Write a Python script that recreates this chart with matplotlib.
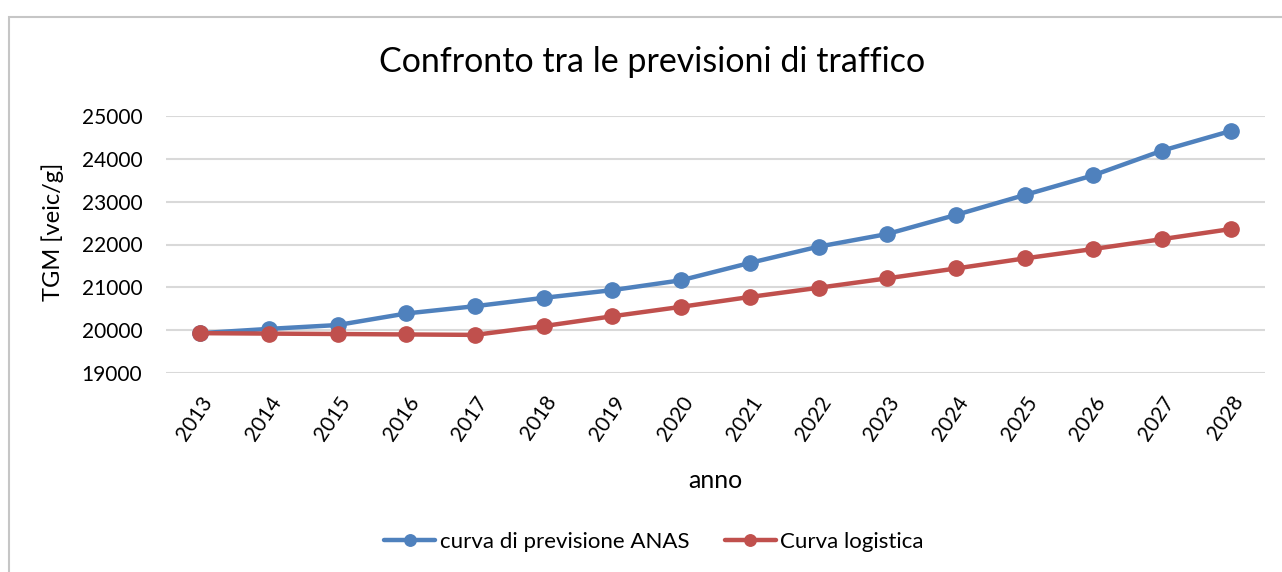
import matplotlib
matplotlib.use("Agg")
import matplotlib.pyplot as plt
from matplotlib.patches import Rectangle

years = ["2013", "2014", "2015", "2016", "2017", "2018", "2019", "2020",
         "2021", "2022", "2023", "2024", "2025", "2026", "2027", "2028"]
anas = [19930, 20030, 20120, 20390, 20560, 20755, 20935, 21165,
        21570, 21950, 22245, 22690, 23155, 23615, 24190, 24650]
logistica = [19930, 19920, 19910, 19900, 19890, 20095, 20325, 20545,
             20775, 20990, 21210, 21440, 21675, 21895, 22125, 22360]
yticks = [19000, 20000, 21000, 22000, 23000, 24000, 25000]

plt.rcParams['font.family'] = ['Lato', 'DejaVu Sans']

W, H = 1282, 572
fig = plt.figure(figsize=(W / 100, H / 100), dpi=100)
fig.patch.set_facecolor('white')

# outer chart frame
fig.patches.append(Rectangle((9 / W, -0.1), 1.2, 1 - 17 / H + 0.1,
                             transform=fig.transFigure, fill=False,
                             edgecolor='#c6c6c6', linewidth=1.5))

ax = fig.add_axes([166 / W, 1 - 373 / H, (1265 - 166) / W, (373 - 116) / H])
x = list(range(len(years)))
ax.plot(x, anas, color='#4f81bd', lw=3.2, marker='o', ms=11,
        label='curva di previsione ANAS', solid_capstyle='round', zorder=3)
ax.plot(x, logistica, color='#c0504d', lw=3.2, marker='o', ms=11,
        label='Curva logistica', solid_capstyle='round', zorder=3)

ax.set_xlim(-0.5, len(years) - 0.5)
ax.set_ylim(19000, 25000)
ax.set_yticks(yticks)
ax.set_yticklabels([str(v) for v in yticks], fontsize=15)
ax.set_xticks(x)
ax.set_xticklabels(years, fontsize=15, rotation=56, ha='right', va='top',
                   rotation_mode='anchor')
ax.tick_params(axis='both', length=0)
ax.tick_params(axis='y', pad=17)
ax.tick_params(axis='x', pad=14)
ax.grid(axis='y', color='#d9d9d9', lw=1.5)
ax.set_axisbelow(True)
for s in ax.spines.values():
    s.set_visible(False)

fig.text(652 / W, 1 - 62 / H, 'Confronto tra le previsioni di traffico',
         ha='center', va='center', fontsize=24.5)
fig.text(53 / W, 1 - 232 / H, 'TGM [veic/g]', ha='center', va='center',
         rotation=90, fontsize=17)
fig.text(715 / W, 1 - 480 / H, 'anno', ha='center', va='center', fontsize=18)

fig.legend(loc='center', bbox_to_anchor=(654 / W, 1 - 542 / H), ncol=2,
           frameon=False, fontsize=16, handlelength=2.3, handletextpad=0.2,
           columnspacing=1.6, markerscale=0.75)

fig.savefig('out.png', dpi=100, facecolor='white')
